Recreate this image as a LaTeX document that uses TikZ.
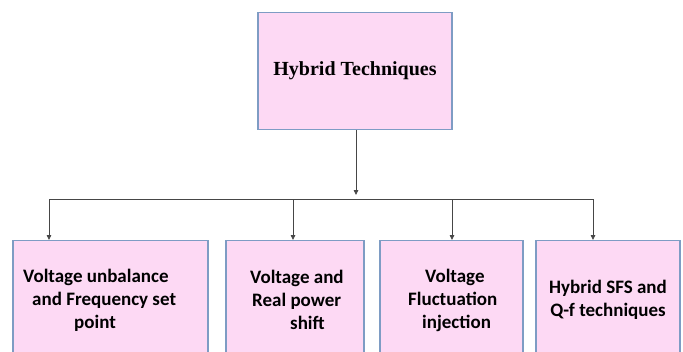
\documentclass[tikz,border=0pt]{standalone}
\usepackage{fontspec}
\setsansfont{Carlito}
\newfontfamily\headfont{Liberation Serif}
\usetikzlibrary{arrows.meta}
\definecolor{boxfill}{RGB}{253,217,244}
\definecolor{boxline}{RGB}{126,156,196}
\definecolor{wire}{RGB}{70,70,70}
\tikzset{
  techbox/.style={draw=boxline,fill=boxfill,line width=1.1pt,align=center,
    inner sep=0pt,anchor=north},
  subbox/.style={techbox,minimum height=130pt},
  subtext/.style={font=\sffamily\bfseries\fontsize{19}{23}\selectfont,align=left,
    inner sep=0pt,anchor=west},
  wire/.style={draw=wire,line width=0.8pt}
}

\begin{document}
\begin{tikzpicture}[x=1pt,y=-1pt,>={Triangle[length=5pt,width=4.5pt]}]
  \useasboundingbox (0,0) rectangle (683,351);
  \clip (0,0) rectangle (683,351);
  % top box
  \node[techbox,minimum width=194pt,minimum height=117pt,
    font=\headfont\bfseries\fontsize{20}{23}\selectfont] (hyb) at (355,12) {Hybrid Techniques};
  % branches
  \node[subbox,minimum width=195pt] (unbal) at (110.5,240) {};
  \node[subbox,minimum width=138pt] (real) at (295,240) {};
  \node[subbox,minimum width=143pt] (fluct) at (451.5,240) {};
  \node[subbox,minimum width=144pt] (sfs) at (608,240) {};
  % texts
  \node[subtext] (t1) at (23,300)
    {Voltage unbalance\\\hspace*{9pt}and Frequency set\\\hspace*{51pt}point};
  \node[subtext] (t2) at (250,300)
    {Voltage and\\\hspace*{2pt}Real power\\\hspace*{40pt}shift};
  \node[subtext] (t3) at (408,300)
    {\hspace*{17pt}Voltage\\Fluctuation\\\hspace*{14pt}injection};
  \node[subtext,align=center] (t4) at (549,300)
    {Hybrid SFS and\\Q-f techniques};
  % bus
  \coordinate (stem) at (356,195);
  \coordinate (bus1) at (49,199);
  \coordinate (bus2) at (293,199);
  \coordinate (bus3) at (452,199);
  \coordinate (bus4) at (593,199);
  \draw[wire,->] (hyb.south -| stem) -- (stem);
  \draw[wire] (bus1) -- (bus4);
  \foreach \b/\n in {bus1/unbal,bus2/real,bus3/fluct,bus4/sfs}
    \draw[wire,->] (\b) -- (\b |- \n.north);
\end{tikzpicture}
\end{document}
